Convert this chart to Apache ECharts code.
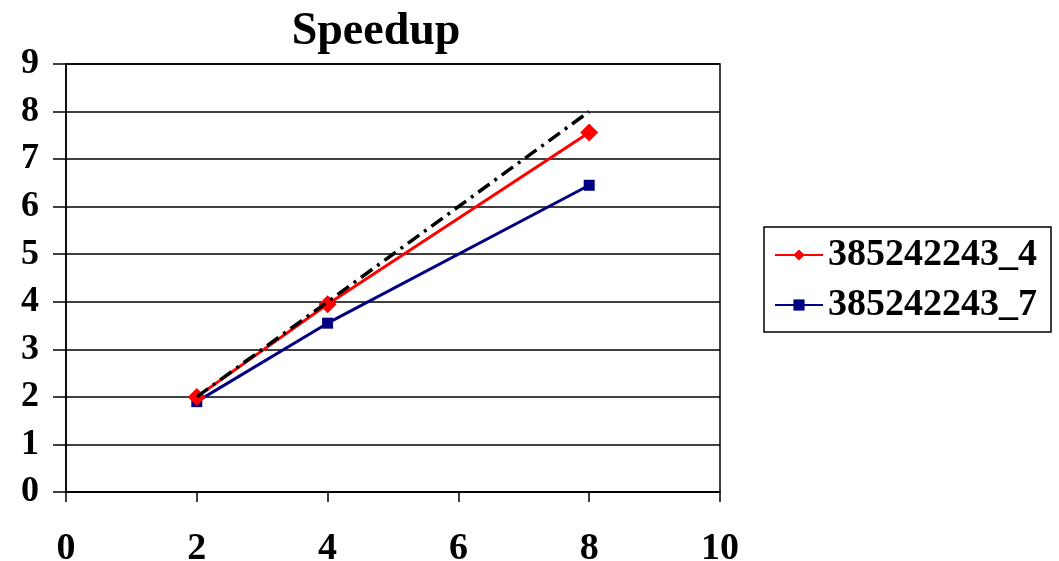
<!DOCTYPE html>
<html>
<head>
<meta charset="utf-8">
<script src="https://cdn.jsdelivr.net/npm/echarts@6/dist/echarts.min.js"></script>
<style>
  html, body { margin: 0; padding: 0; background: #fff; }
  #chart { width: 1059px; height: 561px; }
</style>
</head>
<body>
<div id="chart"></div>
<script>
// 处理器数量
const procs = [2, 4, 8]
// 加速比
const speedup4 = [2.0, 3.95, 7.56]
const speedup7 = [1.9, 3.55, 6.45]
// 理想加速比
const ideal = [2, 4, 8]
const seriesNames = ['385242243_4', '385242243_7']

const font = 'Liberation Serif, Times New Roman, serif'
const pairs = (xs, ys) => xs.map((x, i) => [x, ys[i]])

const myChart = echarts.init(document.getElementById('chart'))
myChart.setOption({
  animation: false,
  backgroundColor: '#fff',
  title: {
    text: 'Speedup',
    left: 371,
    top: 4,
    textAlign: 'center',
    textStyle: { fontFamily: font, fontWeight: 'bold', fontSize: 46, color: '#000' }
  },
  legend: {
    data: seriesNames,
    orient: 'vertical',
    left: 764,
    top: 227,
    width: 293,
    padding: [9, 14, 8, 10],
    itemGap: 12,
    itemWidth: 48,
    itemHeight: 14,
    borderColor: '#000',
    borderWidth: 1.5,
    borderRadius: 0,
    textStyle: { fontFamily: font, fontWeight: 'bold', fontSize: 38, color: '#000' }
  },
  grid: {
    left: 66, right: 339, top: 64, bottom: 69,
    outerBoundsMode: 'none',
    show: true, borderColor: '#000', borderWidth: 1.5
  },
  xAxis: {
    type: 'value',
    min: 0, max: 10, interval: 2,
    axisLine: { lineStyle: { color: '#000', width: 1.5 } },
    axisTick: { length: 10, lineStyle: { color: '#000', width: 1.5 } },
    splitLine: { show: false },
    axisLabel: { margin: 38, fontFamily: font, fontWeight: 'bold', fontSize: 38, color: '#000' }
  },
  yAxis: {
    type: 'value',
    min: 0, max: 9, interval: 1,
    axisLine: { show: true, lineStyle: { color: '#000', width: 1.5 } },
    axisTick: { show: true, length: 13, lineStyle: { color: '#000', width: 1.5 } },
    splitLine: { lineStyle: { color: '#000', width: 1.5 } },
    axisLabel: { margin: 27, fontFamily: font, fontWeight: 'bold', fontSize: 36, color: '#000' }
  },
  series: [
    {
      name: seriesNames[0],
      type: 'line',
      data: pairs(procs, speedup4),
      symbol: 'diamond',
      symbolSize: 18,
      itemStyle: { color: '#ff0000' },
      lineStyle: { color: '#ff0000', width: 3 },
      z: 3
    },
    {
      name: seriesNames[1],
      type: 'line',
      data: pairs(procs, speedup7),
      symbol: 'rect',
      symbolSize: 11,
      itemStyle: { color: '#000080' },
      lineStyle: { color: '#000080', width: 3 },
      z: 2
    },
    {
      name: 'ideal',
      type: 'line',
      data: pairs(procs, ideal),
      symbol: 'none',
      lineStyle: { color: '#000', width: 3.5, type: [14, 6, 3, 6] },
      z: 4
    }
  ]
})
</script>
</body>
</html>
